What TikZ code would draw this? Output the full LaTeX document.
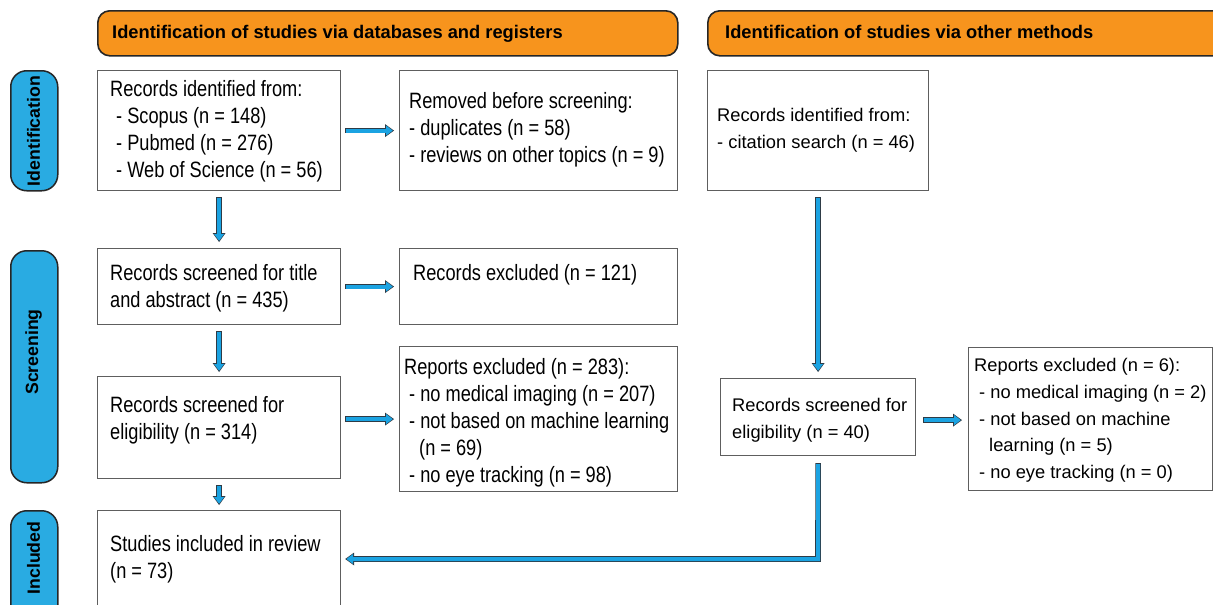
\documentclass[tikz,border=0pt]{standalone}
\usepackage{fontspec}
\setmainfont{Liberation Sans}
\newfontfamily\narrowfont{Liberation Sans}[FakeStretch=0.82]
\usetikzlibrary{arrows.meta,calc}
\definecolor{orng}{HTML}{F7941D}
\definecolor{sideblue}{HTML}{29ABE2}
\definecolor{ablue}{HTML}{1BA3E2}
\definecolor{aedge}{HTML}{2E3B46}
\definecolor{boxgray}{HTML}{5E5E5E}
\newcommand\firstln{\rule{0pt}{20pt}}
\begin{document}
\begin{tikzpicture}[x=1pt,y=-1pt,
  box/.style={draw=boxgray, line width=1.2pt, fill=white, inner sep=0pt, anchor=north west},
  ltxt/.style={font=\narrowfont\fontsize{22.2}{27}\selectfont, align=left, inner sep=0pt, anchor=north west},
  rtxt/.style={font=\fontsize{18.3}{26.7}\selectfont, align=left, inner sep=0pt, anchor=north west},
  head/.style={draw=black!85, line width=1.6pt, fill=orng, rounded corners=12pt, inner sep=0pt, anchor=north west},
  htxt/.style={font=\bfseries\fontsize{18.3}{22}\selectfont, inner sep=0pt, anchor=base west},
  side/.style={draw=black!85, line width=1.5pt, fill=sideblue, rounded corners=16pt, inner sep=0pt, anchor=north west},
  stxt/.style={font=\bfseries\fontsize{17.7}{20}\selectfont, rotate=90, inner sep=0pt},
  fat/.style={draw=ablue, line width=4pt, line join=miter, shorten >=1.3pt, shorten <=0.8pt,
    -{Triangle[length=6.6pt,width=10pt,line width=0pt]},
    preaction={draw=aedge, line width=5.6pt, shorten >=0pt, shorten <=0pt,
      -{Triangle[length=9pt,width=13pt,line width=0pt]}}}
]
\path[use as bounding box] (0,0) rectangle (1213,605);
\fill[white] (0,0) rectangle (1213,605);

% headers
\node[head, minimum width=580pt, minimum height=45pt] (H1) at (97,10) {};
\node[head, minimum width=540pt, minimum height=45pt] (H2) at (707,10) {};
\node[htxt] (H1t) at (112,38.5) {Identification of studies via databases and registers};
\node[htxt] (H2t) at (725,38.5) {Identification of studies via other methods};

% side labels
\node[side, minimum width=47pt, minimum height=120pt] (S1) at (10,70) {};
\node[side, minimum width=47pt, minimum height=232pt] (S2) at (10,250) {};
\node[side, minimum width=47pt, minimum height=125pt] (S3) at (10,510) {};
\node[stxt] (S1t) at (33.5,131) {Identification};
\node[stxt] (S2t) at (33.5,352) {Screening};
\node[stxt] (S3t) at (33.5,558) {Included};

% boxes
\node[box, minimum width=243pt, minimum height=120pt] (A) at (97,70) {};
\node[box, minimum width=278pt, minimum height=120pt] (B) at (399,70) {};
\node[box, minimum width=221pt, minimum height=120pt] (C) at (707,70) {};
\node[box, minimum width=243pt, minimum height=76pt] (D) at (97,248) {};
\node[box, minimum width=278pt, minimum height=76pt] (E) at (399,248) {};
\node[box, minimum width=243pt, minimum height=102pt] (F) at (97,376) {};
\node[box, minimum width=278pt, minimum height=145pt] (G) at (399,346) {};
\node[box, minimum width=195pt, minimum height=77pt] (H) at (720,378) {};
\node[box, minimum width=244pt, minimum height=143pt] (I) at (968,347) {};
\node[box, minimum width=243pt, minimum height=125pt] (J) at (97,510) {};

% texts
\node[ltxt] (At) at (110,76) {\firstln Records identified from:\\\hspace*{6pt}- Scopus (n = 148)\\\hspace*{6pt}- Pubmed (n = 276)\\\hspace*{6pt}- Web of Science (n = 56)};
\node[ltxt] (Bt) at (409,88) {\firstln Removed before screening:\\- duplicates (n = 58)\\- reviews on other topics (n = 9)};
\node[rtxt] (Ct) at (717,101.5) {\firstln Records identified from:\\- citation search (n = 46)};
\node[ltxt] (Dt) at (110,260) {\firstln Records screened for title\\and abstract (n = 435)};
\node[ltxt] (Et) at (413,260) {\firstln Records excluded (n = 121)};
\node[ltxt] (Ft) at (110,392) {\firstln Records screened for\\eligibility (n = 314)};
\node[ltxt] (Gt) at (404,354) {\firstln Reports excluded (n = 283):\\\hspace*{5pt}- no medical imaging (n = 207)\\\hspace*{5pt}- not based on machine learning\\\hspace*{15pt}(n = 69)\\\hspace*{5pt}- no eye tracking (n = 98)};
\node[rtxt] (Ht) at (732,391.5) {\firstln Records screened for\\eligibility (n = 40)};
\node[rtxt] (It) at (974,351.5) {\firstln Reports excluded (n = 6):\\\hspace*{5pt}- no medical imaging (n = 2)\\\hspace*{5pt}- not based on machine\\\hspace*{15pt}learning (n = 5)\\\hspace*{5pt}- no eye tracking (n = 0)};
\node[ltxt] (Jt) at (110,531) {\firstln Studies included in review\\(n = 73)};

% arrows
\coordinate (elb) at (818,559);
\draw[fat] ([xshift=4pt]A.east) -- ([xshift=-5pt]B.west);
\draw[fat] ([yshift=-6pt]A.south) -- ([yshift=6pt]D.north);
\draw[fat] ([xshift=4pt]D.east) -- ([xshift=-5pt]E.west);
\draw[fat] ([yshift=-6pt]D.south) -- ([yshift=4pt]F.north);
\draw[fat] ($(F.east |- G.west)+(4,0)$) -- ([xshift=-5pt]G.west);
\draw[fat] ([yshift=-6pt]F.south) -- ([yshift=5pt]J.north);
\draw[fat] ([yshift=-6pt]C.south) -- ([yshift=6pt]H.north);
\draw[fat] ($(H.east)+(7,3)$) -- ($(I.west |- H.east)+(-6,3)$);
\draw[fat] ([yshift=-7pt]H.south) -- (elb) -- ($(J.east |- elb)+(4,0)$);
\end{tikzpicture}
\end{document}
